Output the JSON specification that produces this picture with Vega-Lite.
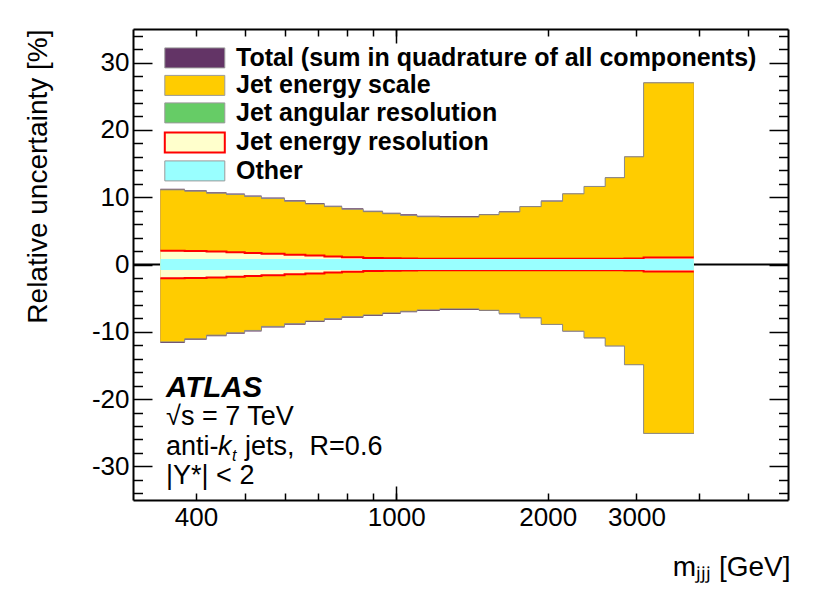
{
  "$schema": "https://vega.github.io/schema/vega-lite/v6.json",
  "width": 655,
  "height": 471,
  "autosize": {"type": "none"},
  "padding": {"left": 133, "top": 29, "right": 42, "bottom": 96},
  "background": "white",
  "datasets": {
    "bins": [
      {"lo": 340, "hi": 380, "tot_up": 11.25, "tot_dn": -11.65, "jes_up": 11.1, "jes_dn": -11.5, "jar_up": 0.3, "jar_dn": -0.3, "jer_up": 2.05, "jer_dn": -2.05, "oth_up": 0.8, "oth_dn": -0.8},
      {"lo": 380, "hi": 420, "tot_up": 11.05, "tot_dn": -11.2, "jes_up": 10.9, "jes_dn": -11.05, "jar_up": 0.3, "jar_dn": -0.3, "jer_up": 2.0, "jer_dn": -2.0, "oth_up": 0.8, "oth_dn": -0.8},
      {"lo": 420, "hi": 460, "tot_up": 10.75, "tot_dn": -10.65, "jes_up": 10.6, "jes_dn": -10.5, "jar_up": 0.3, "jar_dn": -0.3, "jer_up": 1.92, "jer_dn": -1.92, "oth_up": 0.8, "oth_dn": -0.8},
      {"lo": 460, "hi": 500, "tot_up": 10.55, "tot_dn": -10.3, "jes_up": 10.4, "jes_dn": -10.15, "jar_up": 0.3, "jar_dn": -0.3, "jer_up": 1.83, "jer_dn": -1.83, "oth_up": 0.8, "oth_dn": -0.8},
      {"lo": 500, "hi": 540, "tot_up": 10.25, "tot_dn": -9.95, "jes_up": 10.1, "jes_dn": -9.8, "jar_up": 0.3, "jar_dn": -0.3, "jer_up": 1.72, "jer_dn": -1.72, "oth_up": 0.8, "oth_dn": -0.8},
      {"lo": 540, "hi": 600, "tot_up": 9.95, "tot_dn": -9.35, "jes_up": 9.8, "jes_dn": -9.2, "jar_up": 0.3, "jar_dn": -0.3, "jer_up": 1.6, "jer_dn": -1.6, "oth_up": 0.8, "oth_dn": -0.8},
      {"lo": 600, "hi": 660, "tot_up": 9.55, "tot_dn": -8.95, "jes_up": 9.4, "jes_dn": -8.8, "jar_up": 0.3, "jar_dn": -0.3, "jer_up": 1.46, "jer_dn": -1.46, "oth_up": 0.8, "oth_dn": -0.8},
      {"lo": 660, "hi": 720, "tot_up": 9.15, "tot_dn": -8.55, "jes_up": 9.0, "jes_dn": -8.4, "jar_up": 0.3, "jar_dn": -0.3, "jer_up": 1.33, "jer_dn": -1.33, "oth_up": 0.8, "oth_dn": -0.8},
      {"lo": 720, "hi": 780, "tot_up": 8.75, "tot_dn": -8.2, "jes_up": 8.6, "jes_dn": -8.05, "jar_up": 0.3, "jar_dn": -0.3, "jer_up": 1.2, "jer_dn": -1.2, "oth_up": 0.8, "oth_dn": -0.8},
      {"lo": 780, "hi": 860, "tot_up": 8.35, "tot_dn": -7.9, "jes_up": 8.2, "jes_dn": -7.75, "jar_up": 0.3, "jar_dn": -0.3, "jer_up": 1.07, "jer_dn": -1.07, "oth_up": 0.8, "oth_dn": -0.8},
      {"lo": 860, "hi": 940, "tot_up": 8.0, "tot_dn": -7.65, "jes_up": 7.85, "jes_dn": -7.5, "jar_up": 0.3, "jar_dn": -0.3, "jer_up": 0.98, "jer_dn": -0.98, "oth_up": 0.8, "oth_dn": -0.8},
      {"lo": 940, "hi": 1020, "tot_up": 7.7, "tot_dn": -7.35, "jes_up": 7.55, "jes_dn": -7.2, "jar_up": 0.3, "jar_dn": -0.3, "jer_up": 0.93, "jer_dn": -0.93, "oth_up": 0.8, "oth_dn": -0.8},
      {"lo": 1020, "hi": 1100, "tot_up": 7.45, "tot_dn": -7.1, "jes_up": 7.3, "jes_dn": -6.95, "jar_up": 0.3, "jar_dn": -0.3, "jer_up": 0.89, "jer_dn": -0.89, "oth_up": 0.8, "oth_dn": -0.8},
      {"lo": 1100, "hi": 1220, "tot_up": 7.25, "tot_dn": -6.9, "jes_up": 7.1, "jes_dn": -6.75, "jar_up": 0.3, "jar_dn": -0.3, "jer_up": 0.86, "jer_dn": -0.86, "oth_up": 0.8, "oth_dn": -0.8},
      {"lo": 1220, "hi": 1340, "tot_up": 7.2, "tot_dn": -6.75, "jes_up": 7.05, "jes_dn": -6.6, "jar_up": 0.3, "jar_dn": -0.3, "jer_up": 0.85, "jer_dn": -0.85, "oth_up": 0.8, "oth_dn": -0.8},
      {"lo": 1340, "hi": 1460, "tot_up": 7.2, "tot_dn": -6.75, "jes_up": 7.05, "jes_dn": -6.6, "jar_up": 0.3, "jar_dn": -0.3, "jer_up": 0.85, "jer_dn": -0.85, "oth_up": 0.8, "oth_dn": -0.8},
      {"lo": 1460, "hi": 1600, "tot_up": 7.5, "tot_dn": -6.9, "jes_up": 7.4, "jes_dn": -6.8, "jar_up": 0.3, "jar_dn": -0.3, "jer_up": 0.85, "jer_dn": -0.85, "oth_up": 0.8, "oth_dn": -0.8},
      {"lo": 1600, "hi": 1760, "tot_up": 7.9, "tot_dn": -7.4, "jes_up": 7.8, "jes_dn": -7.3, "jar_up": 0.3, "jar_dn": -0.3, "jer_up": 0.85, "jer_dn": -0.85, "oth_up": 0.8, "oth_dn": -0.8},
      {"lo": 1760, "hi": 1940, "tot_up": 8.7, "tot_dn": -8.0, "jes_up": 8.6, "jes_dn": -7.9, "jar_up": 0.3, "jar_dn": -0.3, "jer_up": 0.85, "jer_dn": -0.85, "oth_up": 0.8, "oth_dn": -0.8},
      {"lo": 1940, "hi": 2140, "tot_up": 9.5, "tot_dn": -9.0, "jes_up": 9.4, "jes_dn": -8.9, "jar_up": 0.3, "jar_dn": -0.3, "jer_up": 0.85, "jer_dn": -0.85, "oth_up": 0.8, "oth_dn": -0.8},
      {"lo": 2140, "hi": 2360, "tot_up": 10.55, "tot_dn": -9.95, "jes_up": 10.5, "jes_dn": -9.9, "jar_up": 0.3, "jar_dn": -0.3, "jer_up": 0.85, "jer_dn": -0.85, "oth_up": 0.8, "oth_dn": -0.8},
      {"lo": 2360, "hi": 2600, "tot_up": 11.65, "tot_dn": -10.95, "jes_up": 11.6, "jes_dn": -10.9, "jar_up": 0.3, "jar_dn": -0.3, "jer_up": 0.86, "jer_dn": -0.86, "oth_up": 0.8, "oth_dn": -0.8},
      {"lo": 2600, "hi": 2840, "tot_up": 12.95, "tot_dn": -12.15, "jes_up": 12.9, "jes_dn": -12.1, "jar_up": 0.3, "jar_dn": -0.3, "jer_up": 0.87, "jer_dn": -0.87, "oth_up": 0.8, "oth_dn": -0.8},
      {"lo": 2840, "hi": 3100, "tot_up": 16.05, "tot_dn": -14.95, "jes_up": 16.0, "jes_dn": -14.9, "jar_up": 0.3, "jar_dn": -0.3, "jer_up": 0.88, "jer_dn": -0.88, "oth_up": 0.8, "oth_dn": -0.8},
      {"lo": 3100, "hi": 3900, "tot_up": 27.05, "tot_dn": -25.15, "jes_up": 27.0, "jes_dn": -25.1, "jar_up": 0.3, "jar_dn": -0.3, "jer_up": 1.05, "jer_dn": -1.05, "oth_up": 0.8, "oth_dn": -0.8}
    ]
  },
  "layer": [
    {
      "data": {"values": [{}]},
      "mark": {"type": "rule", "color": "black", "strokeWidth": 2},
      "encoding": {
        "y": {"datum": 0, "type": "quantitative", "scale": {"domain": [-35, 35], "nice": false, "zero": false}, "axis": null}
      }
    },
    {
      "data": {"name": "bins"},
      "transform": [{"fold": ["lo", "hi"], "as": ["edge", "m"]}],
      "mark": {"type": "area", "opacity": 1},
      "encoding": {
        "x": {
          "field": "m", "type": "quantitative",
          "scale": {"type": "log", "domain": [300, 6000], "nice": false},
          "axis": {
            "orient": "bottom",
            "values": [400, 500, 600, 700, 800, 900, 1000, 2000, 3000, 4000, 5000],
            "labelExpr": "indexof([400, 1000, 2000, 3000], datum.value) >= 0 ? '' + datum.value : ''",
            "labelFlush": false,
            "labelOverlap": false,
            "tickSize": -7,
            "labelPadding": 11,
            "title": "mⱼⱼⱼ [GeV]",
            "titleFontSize": 28,
            "titleAlign": "right",
            "titleBaseline": "alphabetic",
            "titleX": 657,
            "titleY": 75
          }
        },
        "order": [{"field": "m", "type": "quantitative"}, {"field": "edge", "type": "nominal"}],
        "y": {
          "field": "tot_up", "type": "quantitative",
          "axis": {
            "orient": "left",
            "values": [-30, -20, -10, 0, 10, 20, 30],
            "labelExpr": "'' + datum.value",
            "labelOverlap": false,
            "tickSize": -19,
            "labelPadding": 23,
            "title": "Relative uncertainty [%]",
            "titleFontSize": 28,
            "titleAngle": 270,
            "titleAlign": "right",
            "titleBaseline": "middle",
            "titleX": -95,
            "titleY": 0
          }
        },
        "y2": {"field": "tot_dn"},
        "color": {
          "datum": "Total (sum in quadrature of all components)",
          "type": "nominal",
          "scale": {
            "domain": ["Total (sum in quadrature of all components)", "Jet energy scale", "Jet angular resolution", "Jet energy resolution", "Other"],
            "range": ["#633466", "#FFCC00", "#66CC66", "#FFFFCC", "#99FFFF"]
          },
          "legend": {
            "orient": "none",
            "legendX": 49.3,
            "legendY": 16.4,
            "title": null,
            "padding": 0,
            "symbolType": "M-3,-1H3V1H-3Z",
            "symbolSize": 400,
            "symbolOpacity": 1,
            "labelFont": "Liberation Sans",
            "labelFontSize": 25,
            "labelFontWeight": "bold",
            "labelColor": "black",
            "labelOffset": 28.7,
            "labelLimit": 700,
            "rowPadding": 1.5,
            "encode": {
              "symbols": {
                "update": {
                  "stroke": {"signal": "datum.value === 'Jet energy resolution' ? '#FF0000' : '#9a9a9a'"},
                  "strokeWidth": {"signal": "datum.value === 'Jet energy resolution' ? 2 : 1"}
                }
              }
            }
          }
        }
      }
    },
    {
      "data": {"name": "bins"},
      "transform": [{"fold": ["lo", "hi"], "as": ["edge", "m"]}],
      "mark": {"type": "area", "opacity": 1},
      "encoding": {
        "x": {
          "field": "m", "type": "quantitative",
          "axis": {
            "orient": "top",
            "values": [400, 500, 600, 700, 800, 900, 1000, 2000, 3000, 4000, 5000],
            "labels": false,
            "tickSize": -7,
            "title": null
          }
        },
        "order": [{"field": "m", "type": "quantitative"}, {"field": "edge", "type": "nominal"}],
        "y": {
          "field": "jes_up", "type": "quantitative",
          "axis": {
            "orient": "right",
            "values": [-30, -20, -10, 0, 10, 20, 30],
            "labels": false,
            "tickSize": -19,
            "title": null
          }
        },
        "y2": {"field": "jes_dn"},
        "color": {"datum": "Jet energy scale", "type": "nominal"}
      }
    },
    {
      "data": {"name": "bins"},
      "transform": [{"fold": ["lo", "hi"], "as": ["edge", "m"]}],
      "mark": {"type": "area", "opacity": 1},
      "encoding": {
        "x": {
          "field": "m", "type": "quantitative",
          "axis": {"orient": "bottom", "values": [1000], "labels": false, "tickSize": -14, "domain": false, "title": null}
        },
        "order": [{"field": "m", "type": "quantitative"}, {"field": "edge", "type": "nominal"}],
        "y": {
          "field": "jar_up", "type": "quantitative",
          "axis": {
            "orient": "left",
            "values": [-34, -32, -28, -26, -24, -22, -18, -16, -14, -12, -8, -6, -4, -2, 2, 4, 6, 8, 12, 14, 16, 18, 22, 24, 26, 28, 32, 34],
            "labels": false, "tickSize": -9.5, "domain": false, "title": null
          }
        },
        "y2": {"field": "jar_dn"},
        "color": {"datum": "Jet angular resolution", "type": "nominal"}
      }
    },
    {
      "data": {"name": "bins"},
      "transform": [{"fold": ["lo", "hi"], "as": ["edge", "m"]}],
      "mark": {"type": "area", "opacity": 1},
      "encoding": {
        "x": {
          "field": "m", "type": "quantitative",
          "axis": {"orient": "top", "values": [1000], "labels": false, "tickSize": -14, "domain": false, "title": null}
        },
        "order": [{"field": "m", "type": "quantitative"}, {"field": "edge", "type": "nominal"}],
        "y": {
          "field": "jer_up", "type": "quantitative",
          "axis": {
            "orient": "right",
            "values": [-34, -32, -28, -26, -24, -22, -18, -16, -14, -12, -8, -6, -4, -2, 2, 4, 6, 8, 12, 14, 16, 18, 22, 24, 26, 28, 32, 34],
            "labels": false, "tickSize": -9.5, "domain": false, "title": null
          }
        },
        "y2": {"field": "jer_dn"},
        "color": {"datum": "Jet energy resolution", "type": "nominal"}
      }
    },
    {
      "data": {"name": "bins"},
      "transform": [{"fold": ["lo", "hi"], "as": ["edge", "m"]}],
      "encoding": {
        "x": {"field": "m", "type": "quantitative", "axis": null},
        "order": [{"field": "m", "type": "quantitative"}, {"field": "edge", "type": "nominal"}]
      },
      "layer": [
        {"mark": {"type": "line", "color": "#8c8c8c", "strokeWidth": 1}, "encoding": {"y": {"field": "jes_up", "type": "quantitative", "axis": null}}},
        {"mark": {"type": "line", "color": "#8c8c8c", "strokeWidth": 1}, "encoding": {"y": {"field": "jes_dn", "type": "quantitative", "axis": null}}},
        {"mark": {"type": "line", "color": "#FF0000", "strokeWidth": 2}, "encoding": {"y": {"field": "jer_up", "type": "quantitative", "axis": null}}},
        {"mark": {"type": "line", "color": "#FF0000", "strokeWidth": 2}, "encoding": {"y": {"field": "jer_dn", "type": "quantitative", "axis": null}}}
      ]
    },
    {
      "data": {"name": "bins"},
      "transform": [{"fold": ["lo", "hi"], "as": ["edge", "m"]}],
      "mark": {"type": "area", "opacity": 1},
      "encoding": {
        "x": {"field": "m", "type": "quantitative", "axis": null},
        "order": [{"field": "m", "type": "quantitative"}, {"field": "edge", "type": "nominal"}],
        "y": {"field": "oth_up", "type": "quantitative", "axis": null},
        "y2": {"field": "oth_dn"},
        "color": {"datum": "Other", "type": "nominal"}
      }
    },
    {
      "data": {"values": [{}]},
      "encoding": {
        "x": {"datum": 349, "type": "quantitative", "axis": null}
      },
      "layer": [
        {"mark": {"type": "text", "text": "ATLAS", "align": "left", "baseline": "alphabetic", "font": "Liberation Sans", "fontSize": 29.5, "fontWeight": "bold", "fontStyle": "italic", "color": "black"},
         "encoding": {"y": {"datum": -19.7, "type": "quantitative", "axis": null}}},
        {"mark": {"type": "text", "text": "√s = 7 TeV", "align": "left", "baseline": "alphabetic", "font": "Liberation Sans", "fontSize": 27, "color": "black"},
         "encoding": {"y": {"datum": -23.9, "type": "quantitative", "axis": null}}},
        {"mark": {"type": "text", "text": "anti-", "align": "left", "baseline": "alphabetic", "font": "Liberation Sans", "fontSize": 27, "color": "black"},
         "encoding": {"y": {"datum": -28.3, "type": "quantitative", "axis": null}}},
        {"mark": {"type": "text", "text": "k", "align": "left", "baseline": "alphabetic", "dx": 52, "font": "Liberation Sans", "fontSize": 27, "fontStyle": "italic", "color": "black"},
         "encoding": {"y": {"datum": -28.3, "type": "quantitative", "axis": null}}},
        {"mark": {"type": "text", "text": "t", "align": "left", "baseline": "alphabetic", "dx": 66, "dy": 6, "font": "Liberation Sans", "fontSize": 16, "fontStyle": "italic", "color": "black"},
         "encoding": {"y": {"datum": -28.3, "type": "quantitative", "axis": null}}},
        {"mark": {"type": "text", "text": "jets,\u00a0 R=0.6", "align": "left", "baseline": "alphabetic", "dx": 79, "font": "Liberation Sans", "fontSize": 27, "color": "black"},
         "encoding": {"y": {"datum": -28.3, "type": "quantitative", "axis": null}}},
        {"mark": {"type": "text", "text": "|Y*| < 2", "align": "left", "baseline": "alphabetic", "font": "Liberation Sans", "fontSize": 27, "color": "black"},
         "encoding": {"y": {"datum": -32.6, "type": "quantitative", "axis": null}}}
      ]
    }
  ],
  "resolve": {"axis": {"x": "independent", "y": "independent"}},
  "config": {
    "font": "Liberation Sans",
    "view": {"stroke": null},
    "axis": {
      "grid": false,
      "zindex": 1,
      "domainColor": "black",
      "domainWidth": 2,
      "tickColor": "black",
      "tickWidth": 1.5,
      "labelFont": "Liberation Sans",
      "labelFontSize": 26,
      "labelColor": "black",
      "titleFont": "Liberation Sans",
      "titleFontSize": 26,
      "titleFontWeight": "normal",
      "titleColor": "black"
    }
  }
}
